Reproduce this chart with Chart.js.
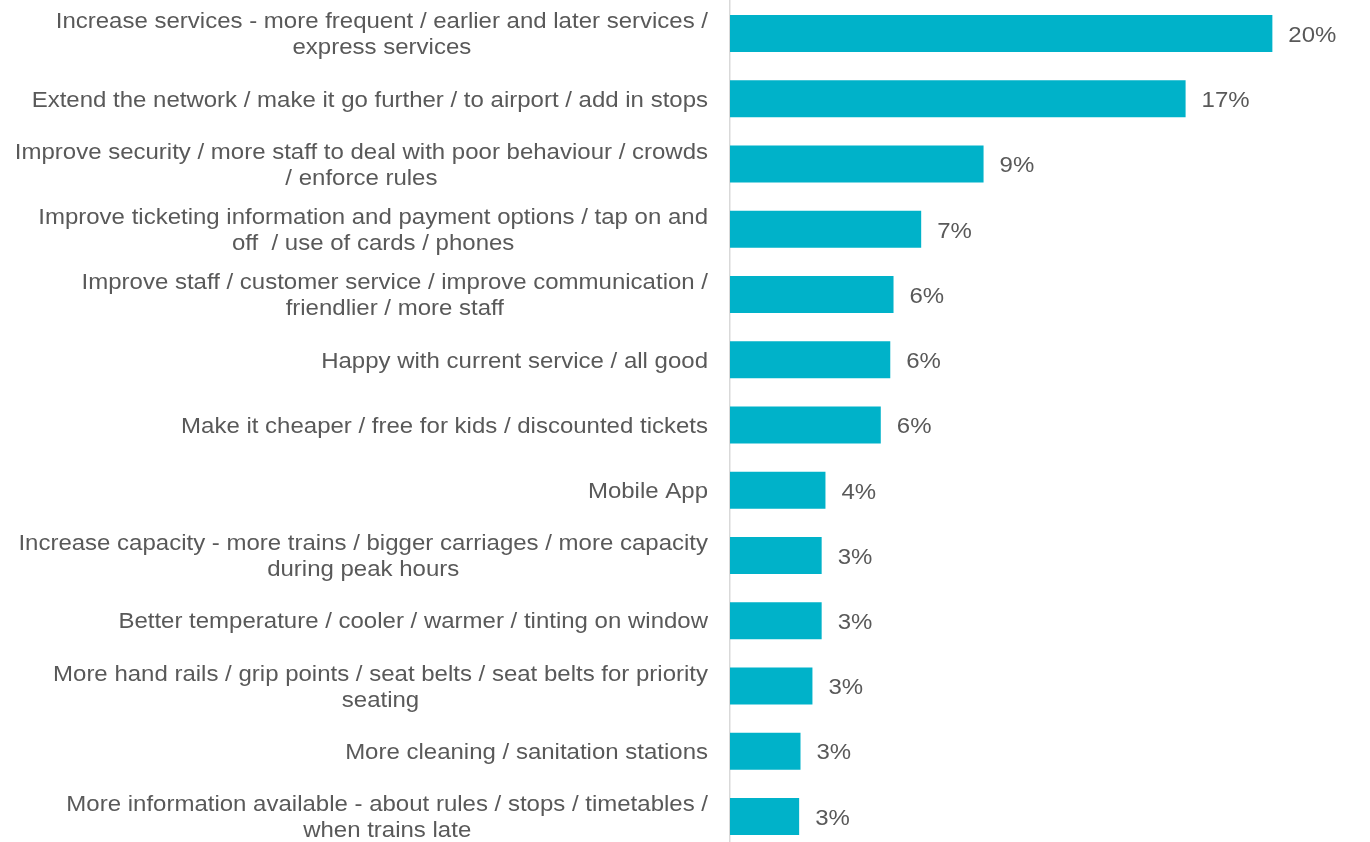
<!DOCTYPE html>
<html lang="en">
<head>
<meta charset="UTF-8">
<title>Suggested improvements</title>
<script src="https://cdn.jsdelivr.net/npm/chart.js"></script>
<style>
  html, body { margin: 0; padding: 0; background: #fff; overflow: hidden; }
  #chart { display: block; }
</style>
</head>
<body>
<canvas id="chart" width="1370" height="850"></canvas>
<script>
// answers, one entry per bar (multi-line where the text wraps)
const categories = [
  ['Increase services - more frequent / earlier and later services /', 'express services'],
  ['Extend the network / make it go further / to airport / add in stops'],
  ['Improve security / more staff to deal with poor behaviour / crowds', '/ enforce rules'],
  ['Improve ticketing information and payment options / tap on and', 'off  / use of cards / phones'],
  ['Improve staff / customer service / improve communication /', 'friendlier / more staff'],
  ['Happy with current service / all good'],
  ['Make it cheaper / free for kids / discounted tickets'],
  ['Mobile App'],
  ['Increase capacity - more trains / bigger carriages / more capacity', 'during peak hours'],
  ['Better temperature / cooler / warmer / tinting on window'],
  ['More hand rails / grip points / seat belts / seat belts for priority', 'seating'],
  ['More cleaning / sanitation stations'],
  ['More information available - about rules / stops / timetables /', 'when trains late']
];

// share of respondents, %
const shares = [20.0, 16.8, 9.35, 7.05, 6.03, 5.91, 5.56, 3.52, 3.38, 3.38, 3.04, 2.6, 2.55];

const BAR = '#00b2c9';
const TEXT = '#595959';
const FONT = '"Liberation Sans", Arial, sans-serif';
const SIZE = 24;
const SQUASH = 0.9;   // text is slightly flattened
const LINE = 26;

function flatText(ctx, str, x, y) {
  ctx.save();
  ctx.translate(x, y);
  ctx.scale(1, SQUASH);
  ctx.fillText(str, 0, 0);
  ctx.restore();
}

// category text: each block sits right against the axis, its lines centred on each other
const categoryText = {
  id: 'categoryText',
  afterDraw(chart) {
    const ctx = chart.ctx;
    const y = chart.scales.y;
    const right = chart.chartArea.left - 22;
    ctx.save();
    ctx.font = SIZE + 'px ' + FONT;
    ctx.fillStyle = TEXT;
    ctx.textAlign = 'center';
    ctx.textBaseline = 'alphabetic';
    categories.forEach((lines, i) => {
      const cy = y.getPixelForValue(i) + 7.8;
      const w = Math.max(...lines.map(l => ctx.measureText(l).width));
      const first = cy - (lines.length - 1) * LINE / 2;
      lines.forEach((l, k) => flatText(ctx, l, right - w / 2, first + k * LINE));
    });
    ctx.restore();
  }
};

// percentage next to the end of every bar
const valueText = {
  id: 'valueText',
  afterDatasetsDraw(chart) {
    const ctx = chart.ctx;
    const meta = chart.getDatasetMeta(0);
    ctx.save();
    ctx.font = SIZE + 'px ' + FONT;
    ctx.fillStyle = TEXT;
    ctx.textAlign = 'left';
    ctx.textBaseline = 'alphabetic';
    meta.data.forEach((bar, i) => {
      flatText(ctx, Math.round(shares[i]) + '%', bar.x + 16, bar.y + 8.3);
    });
    ctx.restore();
  }
};

new Chart(document.getElementById('chart'), {
  type: 'bar',
  data: {
    labels: categories.map(l => l.join(' ')),
    datasets: [{
      data: shares,
      backgroundColor: BAR,
      borderWidth: 0,
      categoryPercentage: 1,
      barPercentage: 0.567
    }]
  },
  options: {
    indexAxis: 'y',
    responsive: false,
    animation: false,
    layout: { padding: { top: 1, bottom: 1, left: 0, right: 0 } },
    plugins: {
      legend: { display: false },
      tooltip: { enabled: false }
    },
    scales: {
      x: {
        display: false,
        min: 0,
        max: 23.6
      },
      y: {
        afterFit(scale) { scale.width = 730; },
        grid: { display: false, drawTicks: false },
        border: { display: true, color: '#d9d9d9', width: 1.5 },
        ticks: { display: false }
      }
    }
  },
  plugins: [categoryText, valueText]
});
</script>
</body>
</html>
